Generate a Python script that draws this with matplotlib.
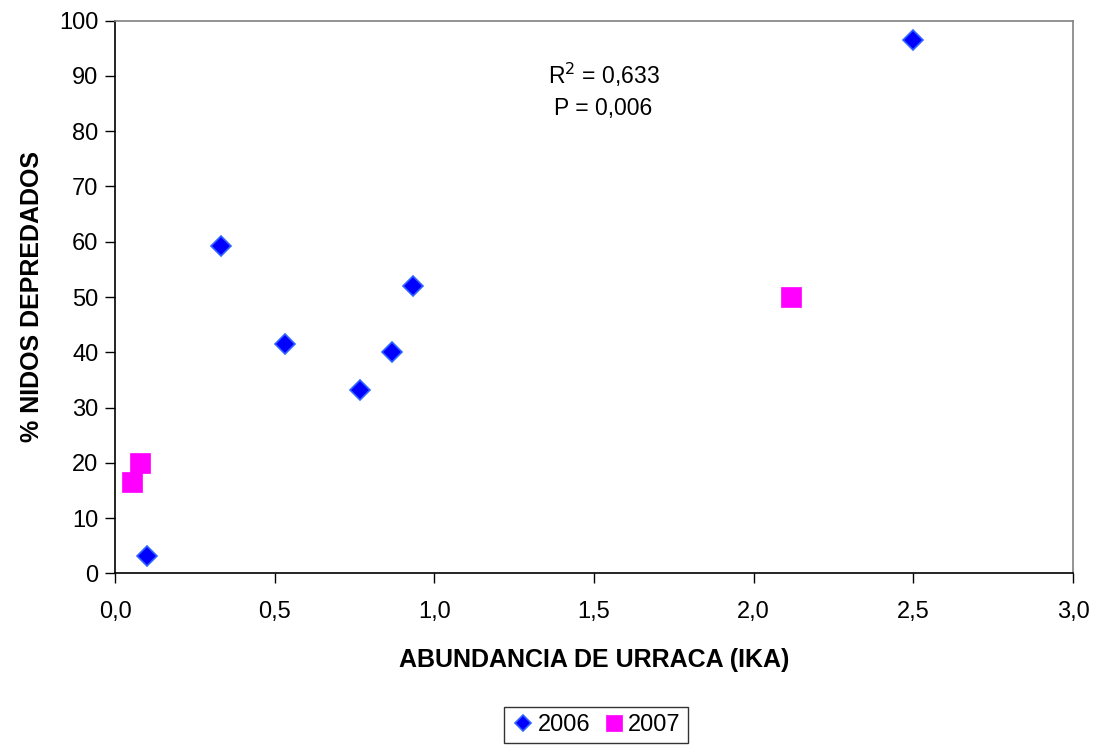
import matplotlib
matplotlib.use("Agg")
import matplotlib.pyplot as plt
from matplotlib.ticker import FuncFormatter

plt.rcParams['font.family'] = ['Liberation Sans', 'DejaVu Sans']

x2006 = [0.101, 0.332, 0.532, 0.767, 0.868, 0.933, 2.499]
y2006 = [3.1, 59.2, 41.5, 33.2, 40.0, 52.0, 96.5]
x2007 = [0.054, 0.078, 2.117]
y2007 = [16.6, 19.9, 50.0]
xlabel = "ABUNDANCIA DE URRACA (IKA)"
ylabel = "% NIDOS DEPREDADOS"
labels = ["2006", "2007"]

fig = plt.figure(figsize=(10.99, 7.51), dpi=100)
ax = fig.add_axes([115/1099, 1-573.3/751, (1073-115)/1099, (573.3-20.7)/751])

ax.plot(x2006, y2006, linestyle='none', marker='D', ms=10.5, mfc='#0000FF',
        mec='#3366FF', mew=1.2, label=labels[0], clip_on=False, zorder=3)
ax.plot(x2007, y2007, linestyle='none', marker='s', ms=14, mfc='#FF00FF',
        mec='#FF00FF', mew=0.5, label=labels[1], clip_on=False, zorder=3)

ax.set_xlim(0, 3.0)
ax.set_ylim(0, 100)
ax.set_xticks([0, 0.5, 1.0, 1.5, 2.0, 2.5, 3.0])
ax.set_yticks(range(0, 101, 10))
ax.xaxis.set_major_formatter(FuncFormatter(lambda v, p: f"{v:.1f}".replace('.', ',')))
ax.tick_params(axis='both', direction='out', length=7, width=1, labelsize=17, color='black')
ax.tick_params(axis='x', pad=13)
ax.tick_params(axis='y', pad=5)

for s in ['left', 'bottom']:
    ax.spines[s].set_color('black')
    ax.spines[s].set_linewidth(1.2)
for s in ['top', 'right']:
    ax.spines[s].set_color('#808080')
    ax.spines[s].set_linewidth(1.2)

ax.set_xlabel(xlabel, fontsize=18, fontweight='bold', labelpad=18)
ax.set_ylabel(ylabel, fontsize=18, fontweight='bold', labelpad=11)

ax.text(0.51, 0.902, "R$^2$ = 0,633", transform=ax.transAxes, ha='center', va='center', fontsize=16.5)
ax.text(0.51, 0.842, "P = 0,006", transform=ax.transAxes, ha='center', va='center', fontsize=16.5)

leg = fig.legend(loc='lower center', bbox_to_anchor=(596/1099, -0.005), ncol=2, fontsize=17,
                 frameon=True, fancybox=False, edgecolor='black', handletextpad=0.1,
                 columnspacing=0.5, borderpad=0.3, handlelength=1.0, markerscale=0.8)
leg.get_frame().set_linewidth(1.0)

fig.savefig("out.png", dpi=100)
